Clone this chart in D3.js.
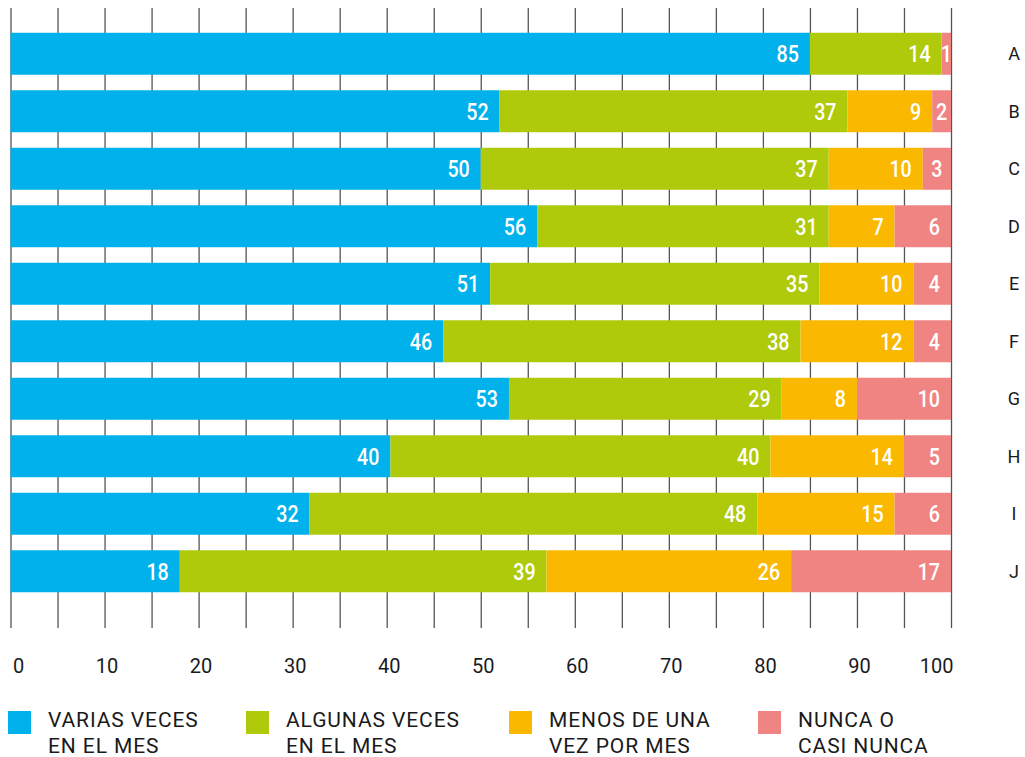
<!DOCTYPE html>
<html>
<head>
<meta charset="utf-8">
<script src="https://cdn.jsdelivr.net/npm/d3@7"></script>
<style>
  body { margin: 0; background: #fff; }
  svg { display: block; }
  .tick text { font-family: Roboto, sans-serif; font-size: 20px; fill: #1a1a1a; }
  .cat { font-family: Roboto, sans-serif; font-size: 18px; fill: #1a1a1a; }
  .val { font-family: Roboto, sans-serif; font-size: 24px; font-weight: 500; fill: #fff; }
  .leg { font-family: Roboto, sans-serif; font-size: 21px; fill: #1a1a1a; letter-spacing: 0.9px; }
</style>
</head>
<body>
<div id="chart"></div>
<script>
// categories (rows, top to bottom)
var categories = ['A', 'B', 'C', 'D', 'E', 'F', 'G', 'H', 'I', 'J'];

// series, percent per row
var varias   = [85, 52, 50, 56, 51, 46, 53, 40.4, 31.8, 18];
var algunas  = [14, 37, 37, 31, 35, 38, 29, 40.4, 47.6, 39];
var menos    = [0,   9, 10,  7, 10, 12,  8, 14.2, 14.6, 26];
var nunca    = [1,   2,  3,  6,  4,  4, 10, 5,    6,    17];

var seriesNames = ['VARIAS VECES|EN EL MES', 'ALGUNAS VECES|EN EL MES', 'MENOS DE UNA|VEZ POR MES', 'NUNCA O|CASI NUNCA'];
var colors = ['#00b1eb', '#afca0b', '#fab900', '#f08482'];

var gridTicks = [0, 5, 10, 15, 20, 25, 30, 35, 40, 45, 50, 55, 60, 65, 70, 75, 80, 85, 90, 95, 100];
var xTicks = [0, 10, 20, 30, 40, 50, 60, 70, 80, 90, 100];

var width = 1025, height = 757;

var svg = d3.select('#chart').append('svg')
    .attr('width', width)
    .attr('height', height);

var x = d3.scaleLinear().domain([0, 100]).range([10.5, 951]);
var y = d3.scaleBand().domain(categories).range([25, 600])
    .paddingInner(0.27).paddingOuter(0.135);

var rows = categories.map(function(c, i) {
  return {cat: c, s0: varias[i], s1: algunas[i], s2: menos[i], s3: nunca[i]};
});
var stack = d3.stack().keys(['s0', 's1', 's2', 's3']);
var layers = stack(rows);

// grid lines behind the bars
var grid = svg.append('g')
    .attr('transform', 'translate(0,628)')
    .call(d3.axisBottom(x).tickValues(gridTicks).tickSize(-620).tickFormat(''));
grid.select('.domain').remove();
grid.selectAll('.tick line').attr('stroke', '#555').attr('stroke-width', 1.3);

// tick labels
var axis = svg.append('g')
    .attr('transform', 'translate(0,628)')
    .call(d3.axisBottom(x).tickValues(xTicks).tickSize(0).tickPadding(31).tickFormat(d3.format('d')));
axis.select('.domain').remove();
axis.selectAll('.tick text')
    .attr('dx', 2)
    .attr('text-anchor', function(d) { return d === 0 ? 'start' : d === 100 ? 'end' : 'middle'; });

var layer = svg.selectAll('g.layer').data(layers)
  .enter().append('g')
    .attr('class', 'layer')
    .attr('fill', function(d, i) { return colors[i]; });

layer.selectAll('rect').data(function(d) { return d; })
  .enter().append('rect')
    .attr('x', function(d) { return x(d[0]); })
    .attr('y', function(d) { return y(d.data.cat); })
    .attr('width', function(d) { return x(d[1]) - x(d[0]); })
    .attr('height', y.bandwidth());

layer.selectAll('text').data(function(d) { return d.filter(function(p) { return p[1] - p[0] > 0; }); })
  .enter().append('text')
    .attr('class', 'val')
    .attr('transform', function(d) {
      var w = x(d[1]) - x(d[0]);
      var tx = w < 30 ? (x(d[0]) + x(d[1])) / 2 : x(d[1]) - 11;
      return 'translate(' + tx + ',' + (y(d.data.cat) + y.bandwidth() / 2) + ') scale(0.82,1)';
    })
    .attr('dy', '0.36em')
    .attr('text-anchor', function(d) { return x(d[1]) - x(d[0]) < 30 ? 'middle' : 'end'; })
    .text(function(d) { return Math.round(d[1] - d[0]); });

svg.selectAll('text.cat').data(categories)
  .enter().append('text')
    .attr('class', 'cat')
    .attr('x', 1014)
    .attr('y', function(d) { return y(d) + y.bandwidth() / 2; })
    .attr('dy', '0.36em')
    .attr('text-anchor', 'middle')
    .text(function(d) { return d; });

// legend
var legX = [8, 246, 509, 758];
var leg = svg.selectAll('g.legitem').data(seriesNames)
  .enter().append('g')
    .attr('class', 'legitem')
    .attr('transform', function(d, i) { return 'translate(' + legX[i] + ',711)'; });

leg.append('rect')
    .attr('width', 23)
    .attr('height', 23)
    .attr('fill', function(d, i) { return colors[i]; });

leg.append('text')
    .attr('class', 'leg')
    .attr('x', 40)
    .attr('y', 16)
    .selectAll('tspan').data(function(d) { return d.split('|'); })
  .enter().append('tspan')
    .attr('x', 40)
    .attr('dy', function(d, i) { return i ? 26 : 0; })
    .text(function(d) { return d; });
</script>
</body>
</html>
